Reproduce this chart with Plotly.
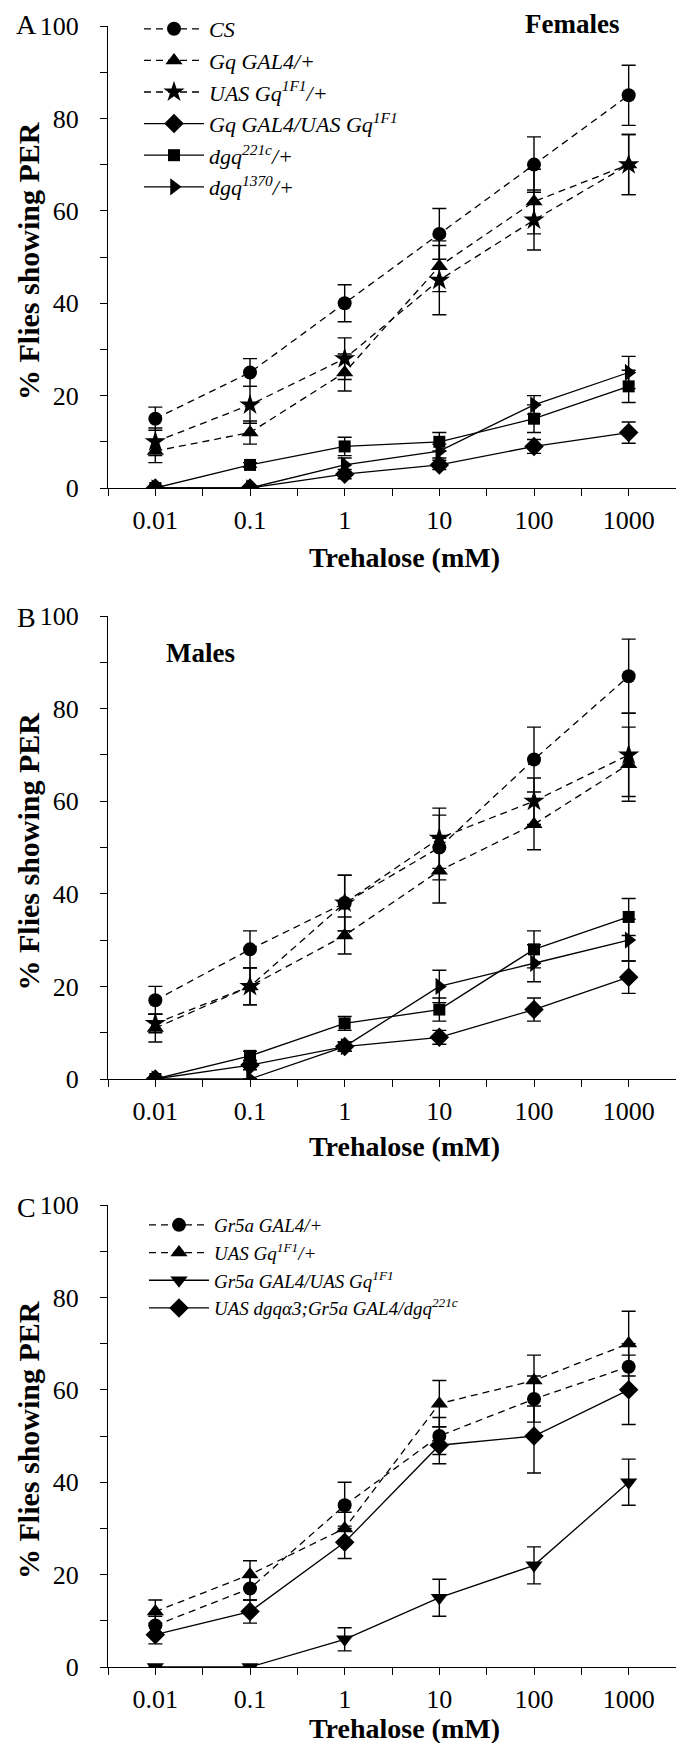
import plotly.graph_objects as go

# ---------------- data ----------------
conc = [0.01, 0.1, 1, 10, 100, 1000]
conc_labels = ["0.01", "0.1", "1", "10", "100", "1000"]
half_decades = [10 ** -2.5, 10 ** -1.5, 10 ** -0.5, 10 ** 0.5, 10 ** 1.5, 10 ** 2.5, 10 ** 3.5]
y_ticks = [0, 10, 20, 30, 40, 50, 60, 70, 80, 90, 100]
y_labels = ["0", "", "20", "", "40", "", "60", "", "80", "", "100"]
x_title = "Trehalose (mM)"
y_title = "% Flies showing PER"

# Panel A - Females
fA_names = ["<i>CS</i>", "<i>Gq GAL4/+</i>", "<i>UAS Gq<sup>1F1</sup>/+</i>",
            "<i>Gq GAL4/UAS Gq<sup>1F1</sup></i>", "<i>dgq<sup>221c</sup>/+</i>",
            "<i>dgq<sup>1370</sup>/+</i>"]
fA_cs = [15, 25, 40, 55, 70, 85]
fA_cs_err = [2.5, 3, 4, 5.5, 6, 6.5]
fA_gq = [8, 12, 25, 48, 62, 70]
fA_gq_err = [2.5, 2.5, 4, 5.5, 7, 6.5]
fA_uas = [10, 18, 28, 45, 58, 70]
fA_uas_err = [3, 4, 4.5, 7.5, 6.5, 6.5]
fA_gquas = [0, 0, 3, 5, 9, 12]
fA_gquas_err = [0, 0, 1, 1, 1.5, 2.3]
fA_221 = [0, 5, 9, 10, 15, 22]
fA_221_err = [0, 0.5, 2, 2, 3, 3.5]
fA_1370 = [0, 0, 5, 8, 18, 25]
fA_1370_err = [0, 0, 1.5, 1.5, 2, 3.5]

# Panel B - Males
mB_cs = [17, 28, 38, 50, 69, 87]
mB_cs_err = [3, 4, 6, 7, 7, 8]
mB_gq = [11, 20, 31, 45, 55, 68]
mB_gq_err = [3, 4, 4, 7, 5.5, 8]
mB_uas = [12, 20, 38, 52, 60, 70]
mB_uas_err = [2, 4, 6, 6.5, 5, 9]
mB_gquas = [0, 3, 7, 9, 15, 22]
mB_gquas_err = [0, 1, 1, 1.5, 2.5, 3.5]
mB_221 = [0, 5, 12, 15, 28, 35]
mB_221_err = [0, 1, 1.5, 2.5, 4, 4]
mB_1370 = [0, 0, 7, 20, 25, 30]
mB_1370_err = [0, 0, 1, 3.5, 4, 4.5]

# Panel C
C_names = ["<i>Gr5a GAL4/+</i>", "<i>UAS Gq<sup>1F1</sup>/+</i>",
           "<i>Gr5a GAL4/UAS Gq<sup>1F1</sup></i>",
           "<i>UAS dgqα3;Gr5a GAL4/dgq<sup>221c</sup></i>"]
C_gr5a = [9, 17, 35, 50, 58, 65]
C_gr5a_err = [2, 2.5, 5, 4, 5, 5]
C_uas = [12, 20, 30, 57, 62, 70]
C_uas_err = [2.5, 3, 3.5, 5, 5.5, 7]
C_gr5uas = [0, 0, 6, 15, 22, 40]
C_gr5uas_err = [0, 0, 2.5, 4, 4, 5]
C_rescue = [7, 12, 27, 48, 50, 60]
C_rescue_err = [2, 2.5, 3.5, 4, 8, 7.5]

FONT = "Liberation Serif, Times New Roman, serif"
DASH = "7px,5px"

fig = go.Figure()


def add(y, err, name, symbol, dash, xa, ya, legend=None, show=False, size=14):
    fig.add_trace(go.Scatter(
        x=conc, y=y, name=name, mode="lines+markers",
        line=dict(color="black", width=1.3, dash=dash),
        marker=dict(symbol=symbol, size=size, color="black", line=dict(width=0)),
        error_y=dict(type="data", array=err, visible=True, color="black",
                     thickness=1.4, width=7),
        xaxis=xa, yaxis=ya, showlegend=show,
        legend=legend if legend else "legend",
    ))


# Panel A
add(fA_cs, fA_cs_err, fA_names[0], "circle", DASH, "x", "y", "legend", True, 14)
add(fA_gq, fA_gq_err, fA_names[1], "triangle-up", DASH, "x", "y", "legend", True, 15)
add(fA_uas, fA_uas_err, fA_names[2], "star", DASH, "x", "y", "legend", True, 16)
add(fA_gquas, fA_gquas_err, fA_names[3], "diamond", "solid", "x", "y", "legend", True, 15)
add(fA_221, fA_221_err, fA_names[4], "square", "solid", "x", "y", "legend", True, 12)
add(fA_1370, fA_1370_err, fA_names[5], "triangle-right", "solid", "x", "y", "legend", True, 15)

# Panel B
add(mB_cs, mB_cs_err, fA_names[0], "circle", DASH, "x2", "y2", size=14)
add(mB_gq, mB_gq_err, fA_names[1], "triangle-up", DASH, "x2", "y2", size=15)
add(mB_uas, mB_uas_err, fA_names[2], "star", DASH, "x2", "y2", size=16)
add(mB_gquas, mB_gquas_err, fA_names[3], "diamond", "solid", "x2", "y2", size=15)
add(mB_221, mB_221_err, fA_names[4], "square", "solid", "x2", "y2", size=12)
add(mB_1370, mB_1370_err, fA_names[5], "triangle-right", "solid", "x2", "y2", size=15)

# Panel C
add(C_gr5a, C_gr5a_err, C_names[0], "circle", DASH, "x3", "y3", "legend2", True, 14)
add(C_uas, C_uas_err, C_names[1], "triangle-up", DASH, "x3", "y3", "legend2", True, 15)
add(C_gr5uas, C_gr5uas_err, C_names[2], "triangle-down", "solid", "x3", "y3", "legend2", True, 15)
add(C_rescue, C_rescue_err, C_names[3], "diamond", "solid", "x3", "y3", "legend2", True, 15)

H = 1743.0
PW = 568.0
L = 108.0
domains = {
    "": (26, 488),
    "2": (616, 1079),
    "3": (1205, 1667),
}
x_title_offset = {"": 69, "2": 67, "3": 61}

x_tickvals = []
x_ticktext = []
for i, v in enumerate(conc):
    x_tickvals.append(half_decades[i])
    x_ticktext.append("")
    x_tickvals.append(v)
    x_ticktext.append(conc_labels[i])
x_tickvals.append(half_decades[-1])
x_ticktext.append("")

tickfont = dict(family=FONT, size=26, color="black")
ytitlefont = dict(family=FONT, size=30, color="black", weight="bold")
xtitlefont = dict(family=FONT, size=28, color="black", weight="bold")

layout = dict(
    width=676, height=1743,
    margin=dict(l=L, r=0, t=0, b=0, autoexpand=False),
    paper_bgcolor="white", plot_bgcolor="white",
    font=dict(family=FONT, color="black"),
)
for k, (top, bot) in domains.items():
    layout["xaxis" + k] = dict(
        type="log", range=[-2.5, 3.5], domain=[0, 1],
        anchor="y" + k, automargin=False,
        tickvals=x_tickvals, ticktext=x_ticktext,
        ticks="outside", ticklen=7, tickwidth=1.3, tickcolor="black",
        showline=True, linecolor="black", linewidth=1.3,
        showgrid=False, zeroline=False,
        tickfont=tickfont, ticklabelstandoff=2,
    )
    layout["yaxis" + k] = dict(
        range=[0, 100], domain=[1 - bot / H, 1 - top / H],
        anchor="x" + k, automargin=False,
        tickvals=y_ticks, ticktext=y_labels,
        ticks="outside", ticklen=7, tickwidth=1.3, tickcolor="black",
        showline=True, linecolor="black", linewidth=1.3,
        showgrid=False, zeroline=False,
        tickfont=tickfont, ticklabelstandoff=16,
    )

layout["legend"] = dict(
    x=(139 - L) / PW, y=1 - 8 / H, xanchor="left", yanchor="top",
    font=dict(family=FONT, size=22, color="black", style="italic"),
    bgcolor="rgba(0,0,0,0)", itemwidth=60, tracegroupgap=0,
)
layout["legend2"] = dict(
    x=(144 - L) / PW, y=1 - 1206 / H, xanchor="left", yanchor="top",
    font=dict(family=FONT, size=19, color="black", style="italic"),
    bgcolor="rgba(0,0,0,0)", itemwidth=60, tracegroupgap=0,
)

ann_font = dict(family=FONT, size=28, color="black")
bold_font = dict(family=FONT, size=27, color="black", weight="bold")


def label(text, px, py, font, angle=0):
    return dict(text=text, x=(px - L) / PW, y=1 - py / H, xref="paper", yref="paper",
                xanchor="center", yanchor="middle", showarrow=False, font=font,
                textangle=angle)


anns = [
    label("A", 26, 24, ann_font),
    label("B", 26, 618, ann_font),
    label("C", 26, 1207, ann_font),
    label("Females", 572, 24, bold_font),
    label("Males", 200, 653, bold_font),
]
for k, (top, bot) in domains.items():
    anns.append(label(y_title, 28, (top + bot) / 2 + 4, ytitlefont, -90))
    anns.append(label(x_title, 404, bot + x_title_offset[k], xtitlefont))
layout["annotations"] = anns

fig.update_layout(**layout)
fig.write_html(
    "out.html",
    config={"displayModeBar": False},
    post_script="document.body.style.margin='0px';document.body.style.padding='0px';",
)
